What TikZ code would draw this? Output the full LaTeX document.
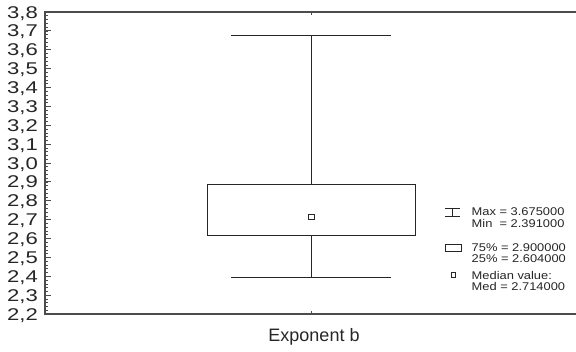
\documentclass[tikz,border=0pt]{standalone}
\usepackage{fontspec}
\setmainfont{Liberation Sans}
\newfontfamily\axisfont[FakeStretch=1.3]{Liberation Sans}
\newfontfamily\legfont[FakeStretch=1.15]{Liberation Sans}
\usetikzlibrary{calc}

\begin{document}
\begin{tikzpicture}[x=1pt,y=-1pt,
    frame/.style={draw=black!70,line width=1.2pt},
    boxline/.style={draw=black!85,line width=0.9pt},
    ylab/.style={anchor=base east,inner sep=0pt,text=black!85,
      font=\axisfont\fontsize{17}{17}\selectfont},
    leg/.style={anchor=west,inner sep=0pt,text=black!85,
      font=\legfont\fontsize{11.2}{12}\selectfont}]
  \useasboundingbox (0,0) rectangle (576,351);

  % frame and axis
  \draw[frame] (576,12) -- (45,12) -- (45,314) -- (576,314);
  \foreach \v in {22,...,38} {
    \pgfmathsetmacro\yy{314-(\v-22)*18.875}
    \pgfmathtruncatemacro\a{\v/10}
    \pgfmathtruncatemacro\b{mod(\v,10)}
    \draw[black!70,line width=0.8pt] (45,\yy) -- (51,\yy);
    \node[ylab] (L\v) at (38,\yy+6.1) {\a,\b};
  }
  \foreach \k in {1,...,79}
    \draw[black!70,line width=0.6pt] (45,314-\k*3.775) -- (47.5,314-\k*3.775);
  \draw[black!70,line width=0.6pt] (311.3,12) -- (311.3,15);
  \draw[black!70,line width=0.6pt] (311.3,314) -- (311.3,311);
  \node[anchor=base,inner sep=0pt,text=black!85,font=\fontsize{18}{18}\selectfont]
    (xl) at (314,341) {Exponent b};

  % box and whiskers
  \coordinate (Bt) at (311.3,184);
  \coordinate (Bb) at (311.3,235.3);
  \coordinate (Wt) at (311.3,35.3);
  \coordinate (Wb) at (311.3,277.3);
  \draw[boxline] (207.3,184) rectangle (415.3,235.3);
  \draw[boxline] (Bt) -- (Wt);
  \draw[boxline] (Bb) -- (Wb);
  \draw[boxline] (231.3,35.3) -- (391.3,35.3);
  \draw[boxline] (231.3,277.3) -- (391.3,277.3);
  \node[draw=black!85,line width=0.8pt,minimum size=5.5pt,inner sep=0pt] (Md) at (311.3,216.7) {};

  % legend
  \draw[boxline,line width=0.8pt] (445,208) -- (460,208) (452.5,208) -- (452.5,216) (445,216) -- (460,216);
  \draw[boxline,line width=0.8pt] (445,244) rectangle (461,251);
  \node[draw=black!85,line width=0.7pt,minimum size=4.5pt,inner sep=0pt] (lm) at (453.3,275) {};
  \node[leg] (Mx) at (471.5,212) {Max = 3.675000};
  \node[leg] (Mn) at (471.5,223) {Min\ \ = 2.391000};
  \node[leg] (Q3) at (471.5,247.7) {75\% = 2.900000};
  \node[leg] (Q1) at (471.5,258.7) {25\% = 2.604000};
  \node[leg] (Mv) at (471.5,275) {Median value:};
  \node[leg] (Me) at (471.5,286) {Med = 2.714000};
\end{tikzpicture}
\end{document}
